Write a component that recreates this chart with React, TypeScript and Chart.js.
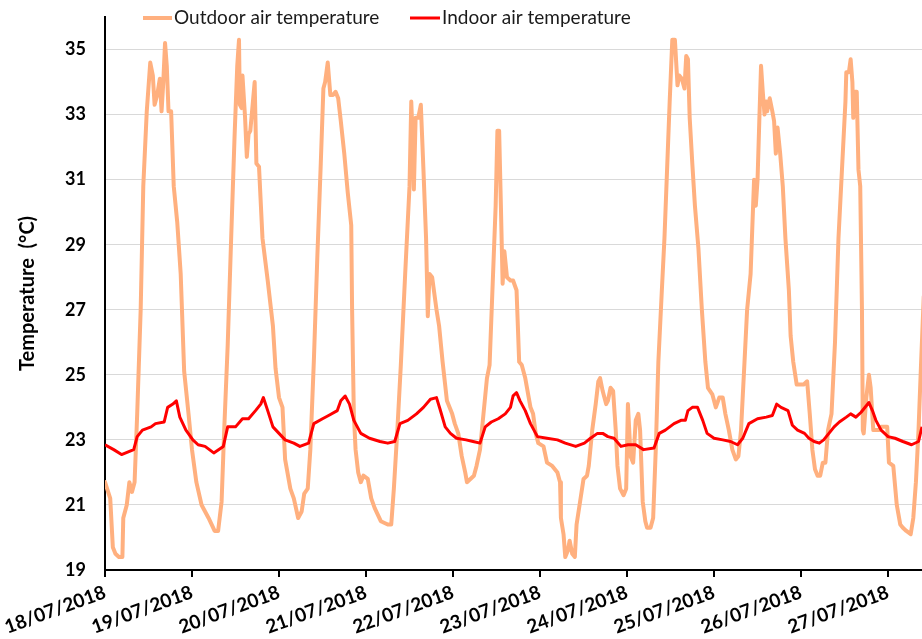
import React, { useEffect, useRef } from 'react';
import { Chart, registerables } from 'chart.js';

Chart.register(...registerables);

const dateLabels = [
  '18/07/2018', '19/07/2018', '20/07/2018', '21/07/2018', '22/07/2018',
  '23/07/2018', '24/07/2018', '25/07/2018', '26/07/2018', '27/07/2018',
];
const dayTicks = [0, 1, 2, 3, 4, 5, 6, 7, 8, 9];
const yTicks = [19, 21, 23, 25, 27, 29, 31, 33, 35];

// time in days since 18/07/2018 00:00
const outdoorDay = [
  0.00, 0.06, 0.09, 0.12, 0.16, 0.20, 0.21, 0.25, 0.28, 0.31, 0.34, 0.37, 0.41, 0.44, 0.48, 0.52, 0.55, 0.57, 0.60, 0.63,
  0.65, 0.67, 0.69, 0.71, 0.73, 0.76, 0.79, 0.83, 0.87, 0.91, 0.96, 1.00, 1.05, 1.11, 1.19, 1.26, 1.30, 1.34, 1.37, 1.41,
  1.45, 1.49, 1.52, 1.54, 1.55, 1.57, 1.58, 1.61, 1.63, 1.65, 1.67, 1.70, 1.72, 1.74, 1.77, 1.81, 1.87, 1.93, 1.96, 2.00,
  2.04, 2.07, 2.13, 2.17, 2.22, 2.26, 2.29, 2.33, 2.36, 2.40, 2.44, 2.48, 2.51, 2.53, 2.56, 2.59, 2.62, 2.65, 2.68, 2.71,
  2.75, 2.79, 2.83, 2.84, 2.86, 2.88, 2.91, 2.94, 2.97, 3.02, 3.06, 3.10, 3.17, 3.25, 3.29, 3.32, 3.36, 3.40, 3.45, 3.50,
  3.52, 3.54, 3.55, 3.57, 3.60, 3.63, 3.66, 3.69, 3.71, 3.73, 3.76, 3.81, 3.84, 3.88, 3.93, 3.99, 4.02, 4.06, 4.10, 4.14,
  4.16, 4.20, 4.24, 4.27, 4.31, 4.35, 4.39, 4.42, 4.46, 4.49, 4.51, 4.53, 4.55, 4.57, 4.59, 4.62, 4.66, 4.69, 4.73, 4.76,
  4.79, 4.83, 4.89, 4.92, 4.95, 4.98, 5.04, 5.08, 5.14, 5.20, 5.23, 5.24, 5.27, 5.29, 5.32, 5.34, 5.37, 5.40, 5.42, 5.46,
  5.50, 5.54, 5.56, 5.60, 5.64, 5.67, 5.69, 5.72, 5.76, 5.78, 5.81, 5.84, 5.87, 5.89, 5.92, 5.96, 5.99, 6.01, 6.04, 6.07,
  6.10, 6.13, 6.15, 6.18, 6.21, 6.23, 6.27, 6.30, 6.33, 6.36, 6.40, 6.43, 6.46, 6.49, 6.52, 6.55, 6.58, 6.60, 6.63, 6.66,
  6.68, 6.70, 6.72, 6.75, 6.78, 6.82, 6.86, 6.90, 6.93, 6.98, 7.02, 7.06, 7.10, 7.13, 7.17, 7.21, 7.25, 7.28, 7.31, 7.35,
  7.38, 7.42, 7.46, 7.48, 7.50, 7.52, 7.54, 7.56, 7.58, 7.60, 7.61, 7.64, 7.67, 7.69, 7.71, 7.73, 7.76, 7.79, 7.82, 7.86,
  7.88, 7.91, 7.95, 8.00, 8.03, 8.07, 8.10, 8.13, 8.16, 8.19, 8.22, 8.25, 8.28, 8.31, 8.35, 8.39, 8.43, 8.47, 8.51, 8.52,
  8.55, 8.57, 8.59, 8.60, 8.62, 8.64, 8.66, 8.68, 8.70, 8.71, 8.72, 8.75, 8.78, 8.80, 8.83, 8.86, 8.90, 8.92, 8.95, 8.99,
  9.01, 9.06, 9.10, 9.14, 9.17, 9.21, 9.26, 9.29, 9.32, 9.35, 9.38, 9.41,
];
const outdoorTemp = [
  21.7, 21.2, 19.7, 19.5, 19.4, 19.4, 20.6, 21.0, 21.7, 21.4, 21.7, 23.8, 27.0, 30.8, 33.1, 34.6, 34.2, 33.3, 33.6, 34.1,
  33.1, 34.0, 35.2, 34.5, 33.1, 33.1, 30.8, 29.7, 28.1, 25.1, 23.8, 22.7, 21.7, 21.0, 20.6, 20.2, 20.2, 21.1, 23.3, 25.9,
  29.2, 32.4, 34.5, 35.3, 33.3, 33.2, 34.2, 32.9, 31.7, 32.4, 32.5, 33.4, 34.0, 31.5, 31.4, 29.2, 27.9, 26.5, 25.2, 24.3,
  24.0, 22.4, 21.5, 21.2, 20.6, 20.8, 21.35, 21.5, 22.7, 25.4, 28.6, 31.5, 33.8, 34.0, 34.6, 33.6, 33.6, 33.7, 33.5, 32.8,
  31.8, 30.6, 29.6, 27.0, 23.8, 22.7, 22.0, 21.7, 21.9, 21.8, 21.2, 20.9, 20.5, 20.4, 20.4, 21.5, 23.3, 25.3, 28.1, 30.8,
  33.4, 32.0, 30.7, 32.9, 32.9, 33.3, 31.3, 29.2, 26.8, 28.1, 28.0, 27.0, 26.5, 25.4, 24.2, 23.8, 23.5, 23.2, 22.5, 22.0,
  21.7, 21.8, 21.9, 22.2, 22.7, 23.8, 24.9, 25.3, 28.1, 30.2, 32.5, 32.5, 30.2, 27.8, 28.8, 28.0, 27.9, 27.9, 27.6, 25.4,
  25.3, 24.9, 24.0, 23.8, 23.2, 22.9, 22.8, 22.3, 22.2, 22.0, 21.7, 20.6, 20.1, 19.4, 19.6, 19.9, 19.5, 19.4, 20.4, 21.1,
  21.8, 21.9, 22.2, 23.3, 24.1, 24.8, 24.9, 24.5, 24.1, 24.2, 24.6, 24.5, 23.3, 22.2, 21.5, 21.3, 21.5, 24.1, 22.5, 22.3,
  23.6, 23.8, 23.3, 21.1, 20.5, 20.3, 20.3, 20.6, 22.7, 25.4, 27.6, 29.2, 31.3, 33.4, 35.3, 35.3, 33.9, 34.2, 34.1, 33.8,
  34.8, 34.7, 32.9, 31.5, 30.2, 28.9, 27.0, 25.4, 24.6, 24.4, 24.0, 24.3, 24.3, 23.8, 23.3, 22.7, 22.4, 22.5, 23.3, 25.4,
  27.0, 28.1, 31.0, 30.2, 31.0, 32.8, 34.5, 33.7, 33.0, 33.4, 33.1, 33.5, 33.1, 32.8, 31.8, 32.6, 31.8, 30.8, 29.2, 27.6,
  26.2, 25.4, 24.7, 24.7, 24.7, 24.8, 23.8, 22.7, 22.1, 21.9, 21.9, 22.3, 22.3, 23.3, 23.8, 26.0, 29.2, 31.3, 33.4, 34.3,
  34.3, 34.7, 34.0, 32.9, 33.7, 33.7, 31.3, 30.8, 27.0, 23.3, 23.2, 24.3, 25.0, 24.6, 23.3, 23.3, 23.3, 23.4, 23.4, 23.4,
  22.3, 22.2, 21.0, 20.4, 20.3, 20.2, 20.1, 20.6, 21.7, 23.3, 25.4, 27.4,
];

const indoorDay = [
  0.00, 0.10, 0.19, 0.33, 0.37, 0.43, 0.53, 0.58, 0.68, 0.72, 0.78, 0.82, 0.86, 0.93, 1.01, 1.07, 1.15, 1.25, 1.36, 1.41,
  1.50, 1.58, 1.65, 1.73, 1.79, 1.82, 1.87, 1.93, 2.00, 2.07, 2.17, 2.24, 2.34, 2.40, 2.50, 2.57, 2.67, 2.71, 2.76, 2.81,
  2.86, 2.94, 3.04, 3.16, 3.25, 3.33, 3.39, 3.48, 3.58, 3.66, 3.74, 3.81, 3.85, 3.91, 3.97, 4.04, 4.15, 4.23, 4.31, 4.37,
  4.44, 4.52, 4.60, 4.66, 4.69, 4.73, 4.77, 4.83, 4.89, 4.97, 5.08, 5.20, 5.29, 5.41, 5.51, 5.58, 5.66, 5.72, 5.78, 5.85,
  5.93, 6.01, 6.10, 6.19, 6.31, 6.37, 6.44, 6.54, 6.62, 6.67, 6.70, 6.75, 6.81, 6.87, 6.92, 7.00, 7.10, 7.19, 7.27, 7.33,
  7.40, 7.50, 7.60, 7.67, 7.72, 7.77, 7.85, 7.90, 7.96, 8.04, 8.09, 8.15, 8.21, 8.26, 8.32, 8.38, 8.44, 8.52, 8.57, 8.63,
  8.69, 8.75, 8.78, 8.82, 8.86, 8.92, 9.00, 9.08, 9.17, 9.27, 9.35, 9.39, 9.41,
];
const indoorTemp = [
  22.85, 22.7, 22.55, 22.7, 23.1, 23.3, 23.4, 23.5, 23.55, 24.0, 24.1, 24.2, 23.7, 23.3, 23.0, 22.85, 22.8, 22.6, 22.8, 23.4,
  23.4, 23.65, 23.65, 23.9, 24.1, 24.3, 23.9, 23.4, 23.2, 23.0, 22.9, 22.8, 22.9, 23.5, 23.65, 23.75, 23.9, 24.2, 24.35, 24.1,
  23.6, 23.2, 23.05, 22.95, 22.9, 22.95, 23.5, 23.6, 23.8, 24.0, 24.25, 24.3, 23.95, 23.4, 23.2, 23.05, 23.0, 22.95, 22.9, 23.4,
  23.55, 23.65, 23.8, 24.0, 24.35, 24.45, 24.2, 23.9, 23.5, 23.1, 23.05, 23.0, 22.9, 22.8, 22.9, 23.05, 23.2, 23.2, 23.1, 23.05,
  22.8, 22.85, 22.85, 22.7, 22.75, 23.2, 23.3, 23.5, 23.6, 23.6, 23.9, 24.0, 24.0, 23.6, 23.2, 23.05, 23.0, 22.95, 22.85, 23.05,
  23.5, 23.65, 23.7, 23.75, 24.1, 24.0, 23.9, 23.45, 23.3, 23.2, 23.05, 22.95, 22.9, 23.0, 23.2, 23.4, 23.55, 23.7, 23.8, 23.7,
  23.85, 24.05, 24.15, 23.9, 23.6, 23.3, 23.1, 23.05, 22.95, 22.85, 22.95, 23.4, 23.7,
];

const outdoorLabel = 'Outdoor air temperature';
const indoorLabel = 'Indoor air temperature';
const outdoorColor = '#FFB07F';
const indoorColor = '#FF0000';
const FONT = 'Lato, "Open Sans", "DejaVu Sans", sans-serif';

export default function App() {
  const ref = useRef<HTMLCanvasElement>(null);

  useEffect(() => {
    if (!ref.current) return;
    const legendPlugin = {
      id: 'customLegend',
      afterDraw(chart: any) {
        const ctx = chart.ctx;
        ctx.save();
        ctx.lineCap = 'butt';
        ctx.font = `19px ${FONT}`;
        ctx.textBaseline = 'middle';
        ctx.textAlign = 'left';
        ctx.fillStyle = '#1a1a1a';
        const y = 18;
        ctx.strokeStyle = outdoorColor;
        ctx.lineWidth = 4;
        ctx.beginPath();
        ctx.moveTo(143, y);
        ctx.lineTo(172, y);
        ctx.stroke();
        ctx.fillText(outdoorLabel, 174, y);
        ctx.strokeStyle = indoorColor;
        ctx.lineWidth = 3;
        ctx.beginPath();
        ctx.moveTo(410, y);
        ctx.lineTo(440, y);
        ctx.stroke();
        ctx.fillText(indoorLabel, 442, y);
        ctx.restore();
      },
    };

    const chart = new Chart(ref.current, {
      type: 'line',
      data: {
        datasets: [
          {
            label: outdoorLabel,
            data: outdoorDay.map((d, i) => ({ x: d, y: outdoorTemp[i] })),
            borderColor: outdoorColor,
            backgroundColor: outdoorColor,
            borderWidth: 4,
            pointRadius: 0,
            tension: 0,
            borderJoinStyle: 'round',
            borderCapStyle: 'round',
            order: 2,
          },
          {
            label: indoorLabel,
            data: indoorDay.map((d, i) => ({ x: d, y: indoorTemp[i] })),
            borderColor: indoorColor,
            backgroundColor: indoorColor,
            borderWidth: 3,
            pointRadius: 0,
            tension: 0,
            borderJoinStyle: 'round',
            order: 1,
          },
        ],
      },
      options: {
        responsive: false,
        animation: false,
        devicePixelRatio: 1,
        layout: { padding: { left: 0, right: 0, top: 17, bottom: 0 } },
        plugins: {
          legend: { display: false },
          tooltip: { enabled: false },
        },
        scales: {
          x: {
            type: 'linear',
            min: 0,
            max: 9.39,
            afterBuildTicks: (s: any) => {
              s.ticks = dayTicks.map((v) => ({ value: v }));
            },
            afterFit: (s: any) => {
              s.height = 69;
            },
            ticks: {
              autoSkip: false,
              minRotation: 20,
              maxRotation: 20,
              padding: 4,
              color: '#000',
              font: { family: FONT, size: 19, weight: 'bold' },
              callback: (v: any) => dateLabels[Math.round(Number(v))] ?? '',
            },
            grid: {
              drawOnChartArea: false,
              drawTicks: true,
              tickLength: 7,
              color: '#000',
              lineWidth: 2,
            },
            border: { color: '#000', width: 2 },
          },
          y: {
            type: 'linear',
            min: 19,
            max: 36,
            afterBuildTicks: (s: any) => {
              s.ticks = yTicks.map((v) => ({ value: v }));
            },
            afterFit: (s: any) => {
              s.width = 105;
            },
            ticks: {
              padding: 2,
              color: '#000',
              font: { family: FONT, size: 18, weight: 'bold' },
            },
            grid: {
              color: '#d9d9d9',
              lineWidth: 1,
              drawTicks: true,
              tickLength: 17,
              tickColor: 'rgba(0,0,0,0)',
            },
            border: { color: '#000', width: 2 },
            title: {
              display: true,
              text: 'Temperature  (°C)',
              color: '#000',
              font: { family: FONT, size: 20, weight: 'bold' },
              padding: { top: 16, bottom: 0 },
            },
          },
        },
      },
      plugins: [legendPlugin],
    } as any);
    return () => chart.destroy();
  }, []);

  return (
    <div style={{ position: 'absolute', left: 0, top: 0, width: 922, height: 639, background: '#fff' }}>
      <canvas ref={ref} width={922} height={639} style={{ display: 'block' }} />
    </div>
  );
}
